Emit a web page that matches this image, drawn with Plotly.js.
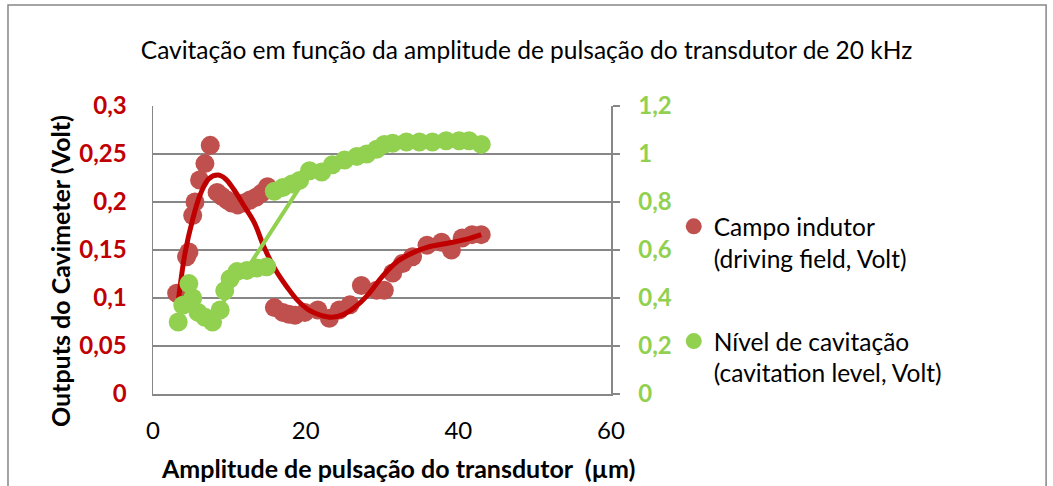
<!DOCTYPE html>
<html>
<head>
<meta charset="utf-8">
<script src="https://cdn.plot.ly/plotly-3.0.1.min.js"></script>
<style>html,body{margin:0;padding:0;background:#fff;}#chart{width:1053px;height:486px;}</style>
</head>
<body>
<div id="chart"></div>
<script>
// Campo indutor (driving field, Volt) - left axis
const redX = [3.1, 4.4, 4.7, 5.2, 5.5, 6.1, 6.8, 7.5, 8.4, 9.0, 9.7, 10.3, 11.1, 11.9, 12.7, 13.5, 14.2, 15.0, 15.9, 17.0, 17.8, 18.6, 19.9, 21.6, 23.1, 24.4, 25.8, 27.3, 29.3, 30.3, 31.4, 32.7, 34.0, 35.9, 37.8, 39.1, 40.5, 41.8, 43.0];
const redY = [0.105, 0.143, 0.148, 0.186, 0.200, 0.223, 0.240, 0.259, 0.210, 0.206, 0.202, 0.199, 0.197, 0.199, 0.202, 0.205, 0.209, 0.216, 0.090, 0.085, 0.083, 0.082, 0.085, 0.0875, 0.079, 0.0875, 0.093, 0.113, 0.108, 0.108, 0.126, 0.136, 0.143, 0.155, 0.158, 0.150, 0.1625, 0.166, 0.166];
// Nível de cavitação (cavitation level, Volt) - right axis
const greenX = [3.3, 3.9, 4.7, 5.2, 5.9, 6.8, 7.8, 8.8, 9.4, 10.1, 11.0, 12.3, 13.6, 14.9, 15.9, 17.0, 18.2, 19.2, 20.5, 22.1, 23.5, 25.1, 26.7, 28.0, 29.3, 30.3, 31.4, 33.2, 34.9, 36.6, 38.4, 40.1, 41.4, 43.0];
const greenY = [0.30, 0.37, 0.46, 0.40, 0.34, 0.32, 0.30, 0.35, 0.43, 0.48, 0.51, 0.515, 0.525, 0.53, 0.845, 0.86, 0.875, 0.89, 0.93, 0.925, 0.955, 0.975, 0.99, 1.00, 1.02, 1.04, 1.045, 1.05, 1.05, 1.05, 1.055, 1.055, 1.055, 1.04];
// Trend lines
const redTrendX = [3.3, 4.2, 5.2, 6.2, 7.3, 8.5, 9.5, 10.5, 12, 13.3, 14.6, 16, 17.6, 19, 20.5, 22, 23.4, 25, 26.4, 28, 30, 32, 34, 36, 38.6, 41, 43];
const redTrendY = [0.096, 0.147, 0.182, 0.208, 0.224, 0.228, 0.224, 0.214, 0.195, 0.178, 0.152, 0.13, 0.111, 0.097, 0.087, 0.082, 0.080, 0.083, 0.090, 0.102, 0.122, 0.138, 0.147, 0.153, 0.157, 0.161, 0.166];
const greenTrendX = [4.5, 6.5, 8.5, 10.5, 12.7, 20.1, 23.5, 26.7, 30.3, 34.9, 40.1, 43.0];
const greenTrendY = [0.38, 0.33, 0.33, 0.47, 0.54, 0.905, 0.955, 0.99, 1.04, 1.05, 1.055, 1.04];
const leftTicks = [0, 0.05, 0.1, 0.15, 0.2, 0.25, 0.3];
const leftTickText = ['0', '0,05', '0,1', '0,15', '0,2', '0,25', '0,3'];
const rightTicks = [0, 0.2, 0.4, 0.6, 0.8, 1, 1.2];
const rightTickText = ['0', '0,2', '0,4', '0,6', '0,8', '1', '1,2'];
const xTicks = [0, 20, 40, 60];
const xTitle = 'Amplitude de pulsação do transdutor  (µm)';
const yTitle = 'Outputs do Cavimeter (Volt)';

const FONT = 'Lato, "Open Sans", sans-serif';
const RED = '#C0504D', DARKRED = '#C00000', GREEN = '#92D050', GRID = '#878787';

const traces = [
  {x: redX, y: redY, type: 'scatter', mode: 'markers', name: 'Campo indutor<br>(driving field, Volt)',
   marker: {color: RED, size: 19}, xaxis: 'x', yaxis: 'y', legendgroup: 'a'},
  {x: greenX, y: greenY, type: 'scatter', mode: 'markers', name: 'Nível de cavitação<br>(cavitation level, Volt)',
   marker: {color: GREEN, size: 19}, xaxis: 'x', yaxis: 'y2', legendgroup: 'b'},
  {x: greenTrendX, y: greenTrendY, type: 'scatter', mode: 'lines', showlegend: false, hoverinfo: 'skip',
   line: {color: GREEN, width: 4}, xaxis: 'x', yaxis: 'y2'},
  {x: redTrendX, y: redTrendY, type: 'scatter', mode: 'lines', showlegend: false, hoverinfo: 'skip',
   line: {color: DARKRED, width: 5, shape: 'spline', smoothing: 1}, xaxis: 'x', yaxis: 'y'}
];

const layout = {
  width: 1053, height: 486,
  margin: {l: 153, r: 442, t: 106, b: 92, pad: 0},
  paper_bgcolor: '#fff', plot_bgcolor: '#fff',
  font: {family: FONT, color: '#000'},
  showlegend: true,
  title: {text: 'Cavitação em função da amplitude de pulsação do transdutor de 20 kHz',
          font: {family: FONT, size: 24.5, color: '#000'}, x: 0.5, xref: 'container', xanchor: 'center',
          y: 0.897, yref: 'container', yanchor: 'middle'},
  xaxis: {range: [0, 60], tickvals: xTicks, ticktext: xTicks.map(String), showgrid: false, zeroline: false,
          showline: true, linecolor: GRID, linewidth: 1.5, ticks: '', ticklen: 0, ticklabelstandoff: 15,
          tickfont: {family: FONT, size: 24, color: '#000'}},
  yaxis: {range: [0, 0.3], tickvals: leftTicks, ticktext: leftTickText, showgrid: true, gridcolor: GRID, gridwidth: 1.5,
          zeroline: false, showline: true, linecolor: GRID, linewidth: 1.5, ticks: '', ticklen: 0, ticklabelstandoff: 20,
          tickfont: {family: FONT, size: 24, color: DARKRED, weight: 'bold'}},
  yaxis2: {range: [0, 1.2], tickvals: rightTicks, ticktext: rightTickText, overlaying: 'y', side: 'right',
           showgrid: false, zeroline: false, showline: true, linecolor: GRID, linewidth: 1.5,
           ticks: 'outside', ticklen: 7, tickcolor: GRID, tickwidth: 1.5, ticklabelstandoff: 14,
           tickfont: {family: FONT, size: 24, color: GREEN, weight: 'bold'}},
  legend: {x: 1.137, xanchor: 'left', y: 0.66, yanchor: 'top', valign: 'top', traceorder: 'grouped', tracegroupgap: 48,
           font: {family: FONT, size: 24.5, color: '#000'}, bgcolor: 'rgba(0,0,0,0)'},
  annotations: [
    {text: xTitle, xref: 'paper', yref: 'paper', x: 0.535, y: -0.257, xanchor: 'center', yanchor: 'middle',
     showarrow: false, font: {family: FONT, size: 25, color: '#000', weight: 'bold'}},
    {text: yTitle, xref: 'paper', yref: 'paper', x: -0.203, y: 0.427, xanchor: 'center', yanchor: 'middle',
     textangle: -90, showarrow: false, font: {family: FONT, size: 25, color: '#000', weight: 'bold'}}
  ],
  shapes: [
    {type: 'rect', xref: 'paper', yref: 'paper', x0: -0.3166, x1: 1.95, y0: -0.4, y1: 1.3507,
     line: {color: '#868686', width: 1.5}, fillcolor: 'rgba(0,0,0,0)', layer: 'below'}
  ]
};

Plotly.newPlot('chart', traces, layout, {displayModeBar: false, staticPlot: true});
</script>
</body>
</html>
